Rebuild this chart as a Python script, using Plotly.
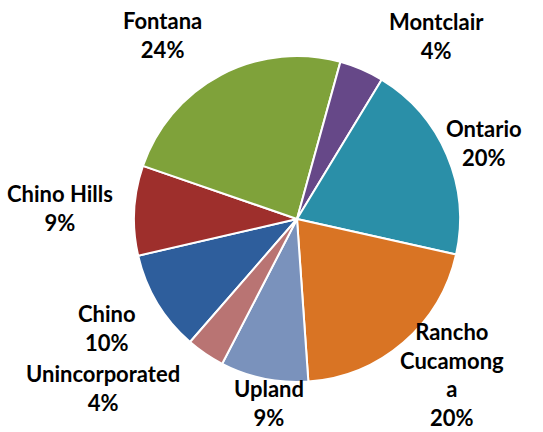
import plotly.graph_objects as go

# Share of total by city, in chart order (clockwise)
cities = ["Chino", "Chino Hills", "Fontana", "Montclair", "Ontario",
          "Rancho Cucamonga", "Upland", "Unincorporated"]
shares = [10.0, 8.9, 24.0, 4.4, 19.8, 20.4, 8.7, 3.8]
label_text = ["Chino", "Chino Hills", "Fontana", "Montclair", "Ontario",
              "Rancho<br>Cucamong<br>a", "Upland", "Unincorporated"]
colors = ["#2E5E9C", "#9E2F2C", "#7FA23A", "#664888", "#2A8FA8",
          "#D97424", "#7A92BC", "#B97473"]

W, H = 543, 432
# Label block centres in pixels (x, y from top)
label_pos = [(107, 328), (60, 208), (162, 34.5), (436, 35.5), (484, 142.5),
             (452, 374), (269, 403), (102.5, 387.5)]

cx, cy, r = 297, 219, 163

fig = go.Figure()
fig.add_trace(go.Pie(
    labels=cities,
    values=shares,
    sort=False,
    direction="clockwise",
    rotation=221,
    textinfo="none",
    hoverinfo="label+percent",
    marker=dict(colors=colors, line=dict(color="white", width=2)),
    domain=dict(x=[(cx - r) / W, (cx + r) / W],
                y=[1 - (cy + r) / H, 1 - (cy - r) / H]),
    showlegend=False,
))

total = sum(shares)
for txt, val, (px, py) in zip(label_text, shares, label_pos):
    pct = round(val / total * 100)
    fig.add_annotation(
        x=px / W, y=1 - py / H, xref="paper", yref="paper",
        text=f"{txt}<br>{pct}%", showarrow=False,
        xanchor="center", yanchor="middle", align="center",
        font=dict(family="Lato", size=22, color="black", weight="bold"),
    )

fig.update_layout(
    width=W, height=H,
    margin=dict(l=0, r=0, t=0, b=0),
    paper_bgcolor="white",
    plot_bgcolor="white",
)

fig.write_html("out.html")
